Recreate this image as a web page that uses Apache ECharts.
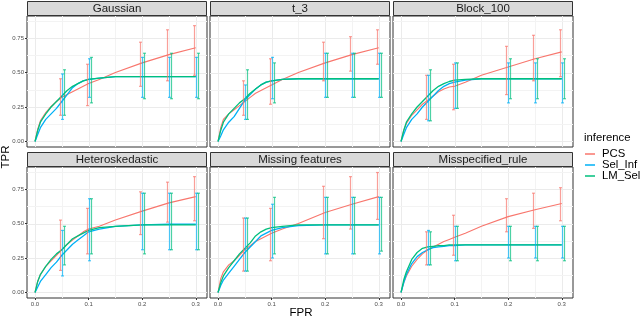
<!DOCTYPE html>
<html><head><meta charset="utf-8">
<script src="https://cdn.jsdelivr.net/npm/echarts@6/dist/echarts.min.js"></script>
<style>html,body{margin:0;padding:0;background:#fff}#c{width:640px;height:318px}</style>
</head><body><div id="c"></div>
<script>
// ---------------- data ----------------
const panels = ['Gaussian', 't_3', 'Block_100', 'Heteroskedastic', 'Missing features', 'Misspecified_rule'];
const methods = ['PCS', 'Sel_Inf', 'LM_Sel'];
const methodColors = ['#F8766D', '#00B0F6', '#00BF7D'];

const xTicks = [0, 0.1, 0.2, 0.3];
const xTickLabels = ['0.0', '0.1', '0.2', '0.3'];
const xMinor = [0.05, 0.15, 0.25];
const yTicks = [0, 0.25, 0.5, 0.75];
const yTickLabels = ['0.00', '0.25', '0.50', '0.75'];
const yMinor = [0.125, 0.375, 0.625, 0.875];

const curveX = [0, 0.005, 0.01, 0.02, 0.03, 0.04, 0.05, 0.06, 0.07, 0.08, 0.09, 0.1, 0.12, 0.15, 0.2, 0.25, 0.3];

const pcsCurves = [
  [0, 0.09, 0.15, 0.21, 0.255, 0.29, 0.32, 0.34, 0.36, 0.38, 0.40, 0.42, 0.45, 0.50, 0.57, 0.63, 0.68],
  [0, 0.10, 0.16, 0.20, 0.23, 0.26, 0.29, 0.32, 0.35, 0.37, 0.39, 0.41, 0.45, 0.50, 0.57, 0.63, 0.68],
  [0, 0.08, 0.13, 0.19, 0.23, 0.27, 0.30, 0.33, 0.36, 0.38, 0.395, 0.40, 0.43, 0.48, 0.54, 0.60, 0.65],
  [0, 0.08, 0.13, 0.19, 0.23, 0.27, 0.31, 0.35, 0.38, 0.41, 0.44, 0.46, 0.48, 0.525, 0.59, 0.65, 0.695],
  [0, 0.10, 0.15, 0.20, 0.23, 0.27, 0.31, 0.34, 0.37, 0.39, 0.41, 0.43, 0.46, 0.50, 0.58, 0.64, 0.695],
  [0, 0.07, 0.12, 0.19, 0.24, 0.28, 0.31, 0.33, 0.35, 0.37, 0.385, 0.40, 0.43, 0.48, 0.55, 0.60, 0.645]
];
const selCurves = [
  [0, 0.05, 0.10, 0.16, 0.20, 0.24, 0.29, 0.34, 0.39, 0.42, 0.44, 0.45, 0.46, 0.47, 0.47, 0.47, 0.47],
  [0, 0.04, 0.085, 0.14, 0.18, 0.24, 0.30, 0.34, 0.38, 0.41, 0.43, 0.44, 0.45, 0.455, 0.455, 0.455, 0.455],
  [0, 0.05, 0.10, 0.16, 0.20, 0.25, 0.29, 0.33, 0.37, 0.40, 0.42, 0.43, 0.445, 0.455, 0.455, 0.455, 0.455],
  [0, 0.04, 0.08, 0.13, 0.18, 0.22, 0.27, 0.31, 0.35, 0.38, 0.41, 0.44, 0.46, 0.48, 0.49, 0.495, 0.495],
  [0, 0.05, 0.09, 0.14, 0.19, 0.24, 0.29, 0.33, 0.37, 0.41, 0.43, 0.45, 0.47, 0.485, 0.49, 0.49, 0.49],
  [0, 0.07, 0.13, 0.21, 0.26, 0.29, 0.31, 0.325, 0.33, 0.335, 0.34, 0.34, 0.345, 0.345, 0.345, 0.345, 0.345]
];
const lmCurves = [
  [0, 0.08, 0.14, 0.20, 0.25, 0.29, 0.33, 0.37, 0.40, 0.42, 0.44, 0.45, 0.46, 0.47, 0.47, 0.47, 0.47],
  [0, 0.08, 0.14, 0.20, 0.24, 0.28, 0.31, 0.35, 0.38, 0.41, 0.43, 0.44, 0.45, 0.455, 0.455, 0.455, 0.455],
  [0, 0.08, 0.14, 0.20, 0.25, 0.29, 0.33, 0.37, 0.40, 0.42, 0.435, 0.445, 0.45, 0.455, 0.455, 0.455, 0.455],
  [0, 0.08, 0.13, 0.19, 0.24, 0.28, 0.31, 0.35, 0.39, 0.41, 0.43, 0.45, 0.47, 0.48, 0.49, 0.49, 0.49],
  [0, 0.07, 0.12, 0.18, 0.23, 0.28, 0.32, 0.36, 0.41, 0.44, 0.46, 0.47, 0.48, 0.49, 0.49, 0.49, 0.49],
  [0, 0.09, 0.15, 0.24, 0.29, 0.32, 0.33, 0.335, 0.34, 0.34, 0.345, 0.345, 0.345, 0.345, 0.345, 0.345, 0.345]
];

const errX = [0.05, 0.1, 0.2, 0.25, 0.3];
const pcsLo = [
  [0.19, 0.26, 0.40, 0.44, 0.48], [0.19, 0.27, 0.44, 0.51, 0.56], [0.16, 0.23, 0.34, 0.44, 0.47],
  [0.16, 0.28, 0.42, 0.51, 0.52], [0.155, 0.23, 0.39, 0.46, 0.53], [0.20, 0.27, 0.44, 0.465, 0.52]
];
const pcsHi = [
  [0.455, 0.56, 0.72, 0.81, 0.84], [0.44, 0.60, 0.72, 0.76, 0.81], [0.48, 0.56, 0.69, 0.77, 0.81],
  [0.525, 0.61, 0.73, 0.80, 0.84], [0.54, 0.61, 0.77, 0.84, 0.87], [0.44, 0.56, 0.68, 0.72, 0.76]
];
const selLo = [
  [0.16, 0.32, 0.32, 0.32, 0.32], [0.16, 0.31, 0.32, 0.32, 0.32], [0.15, 0.24, 0.28, 0.28, 0.28],
  [0.12, 0.23, 0.31, 0.31, 0.31], [0.155, 0.25, 0.28, 0.28, 0.28], [0.20, 0.23, 0.25, 0.25, 0.25]
];
const selHi = [
  [0.49, 0.60, 0.61, 0.61, 0.61], [0.41, 0.61, 0.64, 0.64, 0.64], [0.48, 0.57, 0.57, 0.57, 0.57],
  [0.45, 0.68, 0.72, 0.72, 0.72], [0.54, 0.64, 0.69, 0.69, 0.69], [0.45, 0.48, 0.48, 0.48, 0.48]
];
const lmLo = [
  [0.19, 0.28, 0.31, 0.31, 0.31], [0.16, 0.28, 0.32, 0.32, 0.32], [0.15, 0.24, 0.31, 0.31, 0.31],
  [0.20, 0.28, 0.28, 0.31, 0.31], [0.155, 0.28, 0.28, 0.28, 0.30], [0.20, 0.23, 0.23, 0.23, 0.23]
];
const lmHi = [
  [0.52, 0.61, 0.64, 0.64, 0.64], [0.52, 0.57, 0.64, 0.64, 0.64], [0.52, 0.57, 0.60, 0.60, 0.60],
  [0.48, 0.68, 0.72, 0.72, 0.72], [0.54, 0.69, 0.69, 0.69, 0.69], [0.44, 0.48, 0.48, 0.48, 0.48]
];

// ---------------- layout / style ----------------
const FONT = "'Liberation Sans', Arial, Helvetica, sans-serif";
const colLeft = [27, 210, 393];
const rowTop = [16, 167];
const PW = 180, PH = 131, STRIP = 15;
const X_MIN = -0.015, X_MAX = 0.321, Y_MIN = -0.04, Y_MAX = 0.91;
const dodgePx = [-2, 0, 2];

const curves = [pcsCurves, selCurves, lmCurves];
const los = [pcsLo, selLo, lmLo];
const his = [pcsHi, selHi, lmHi];

const grids = [], xAxes = [], yAxes = [], series = [], graphics = [];

panels.forEach((name, i) => {
  const col = i % 3, row = Math.floor(i / 3);
  const left = colLeft[col], top = rowTop[row];
  grids.push({ left, top, width: PW, height: PH, show: true, backgroundColor: '#ffffff',
    borderColor: '#333333', borderWidth: 1, containLabel: false });
  const bottomRow = row === 1, leftCol = col === 0;
  xAxes.push({
    type: 'value', gridIndex: i, min: X_MIN, max: X_MAX, position: 'bottom',
    axisLine: { show: false, onZero: false }, splitLine: { show: false },
    axisTick: { show: bottomRow, customValues: xTicks, length: 2, lineStyle: { color: '#333333', width: 1 } },
    axisLabel: { show: bottomRow, customValues: xTicks, margin: 3, fontSize: 6, color: '#4D4D4D', fontFamily: FONT,
      formatter: v => xTickLabels[xTicks.findIndex(t => Math.abs(t - v) < 1e-9)] }
  });
  yAxes.push({
    type: 'value', gridIndex: i, min: Y_MIN, max: Y_MAX, position: 'left',
    axisLine: { show: false, onZero: false }, splitLine: { show: false },
    axisTick: { show: leftCol, customValues: yTicks, length: 2, lineStyle: { color: '#333333', width: 1 } },
    axisLabel: { show: leftCol, customValues: yTicks, margin: 3, fontSize: 6, color: '#4D4D4D', fontFamily: FONT,
      formatter: v => yTickLabels[yTicks.findIndex(t => Math.abs(t - v) < 1e-9)] }
  });

  // grid lines (major + minor) drawn from tick arrays
  const gl = [];
  xTicks.forEach(v => gl.push([v, 0]));
  xMinor.forEach(v => gl.push([v, 1]));
  yTicks.forEach(v => gl.push([v, 2]));
  yMinor.forEach(v => gl.push([v, 3]));
  series.push({
    type: 'custom', name: 'grid' + i, xAxisIndex: i, yAxisIndex: i, silent: true, z: 1,
    data: gl,
    renderItem: (params, api) => {
      const cs = params.coordSys;
      const v = api.value(0), k = api.value(1);
      let shape;
      if (k < 2) {
        const x = Math.round(api.coord([v, 0])[0]) + 0.5;
        shape = { x1: x, y1: cs.y, x2: x, y2: cs.y + cs.height };
      } else {
        const y = Math.round(api.coord([0, v])[1]) + 0.5;
        shape = { x1: cs.x, y1: y, x2: cs.x + cs.width, y2: y };
      }
      return { type: 'line', shape, style: { stroke: k % 2 ? '#F3F3F3' : '#EBEBEB', lineWidth: 1 } };
    }
  });

  // curves
  methods.forEach((m, j) => {
    series.push({
      type: 'line', name: m, xAxisIndex: i, yAxisIndex: i, z: 3 + j,
      data: curveX.map((x, k) => [x, curves[j][i][k]]),
      showSymbol: false, symbol: 'none', color: methodColors[j],
      lineStyle: { width: j === 0 ? 1.1 : 1.3, color: methodColors[j] }
    });
  });
  // error bars
  methods.forEach((m, j) => {
    const dx = dodgePx[j], color = methodColors[j];
    series.push({
      type: 'custom', name: m + ' interval', xAxisIndex: i, yAxisIndex: i, z: 6 + j,
      encode: { x: 0, y: [1, 2] },
      data: errX.map((x, k) => [x, los[j][i][k], his[j][i][k]]),
      renderItem: (params, api) => {
        const x = api.value(0), lo = api.value(1), hi = api.value(2);
        const p1 = api.coord([x, lo]), p2 = api.coord([x, hi]);
        const px = Math.round(p1[0] + dx) + 0.5;
        const st = { stroke: color, lineWidth: 1.2, opacity: 0.7 };
        return { type: 'group', children: [
          { type: 'line', shape: { x1: px, y1: p1[1], x2: px, y2: p2[1] }, style: st },
          { type: 'line', shape: { x1: px - 1.5, y1: p1[1], x2: px + 1.5, y2: p1[1] }, style: st },
          { type: 'line', shape: { x1: px - 1.5, y1: p2[1], x2: px + 1.5, y2: p2[1] }, style: st }
        ] };
      }
    });
  });

  // strip
  graphics.push({ type: 'rect', shape: { x: left + 0.5, y: top - STRIP + 0.5, width: PW - 1, height: STRIP - 1 },
    style: { fill: '#D9D9D9', stroke: '#333333', lineWidth: 1 }, z: 10 });
  graphics.push({ type: 'text', x: left + PW / 2, y: top - STRIP / 2,
    style: { text: name, fill: '#1A1A1A', font: '11.5px ' + FONT, align: 'center', verticalAlign: 'middle' }, z: 11 });
});

graphics.push({ type: 'text', x: 301, y: 313,
  style: { text: 'FPR', fill: '#000', font: '11.5px ' + FONT, align: 'center', verticalAlign: 'middle' } });
graphics.push({ type: 'text', x: 6, y: 157, rotation: Math.PI / 2,
  style: { text: 'TPR', fill: '#000', font: '11.5px ' + FONT, align: 'center', verticalAlign: 'middle' } });
graphics.push({ type: 'text', x: 584, y: 138,
  style: { text: 'inference', fill: '#000', font: '11.3px ' + FONT, align: 'left', verticalAlign: 'middle' } });

const chart = echarts.init(document.getElementById('c'), null, { renderer: 'canvas' });
chart.setOption({
  animation: false,
  backgroundColor: '#ffffff',
  grid: grids, xAxis: xAxes, yAxis: yAxes, series,
  legend: {
    data: methods, orient: 'vertical', left: 585, top: 148.5, icon: 'rect',
    itemWidth: 10, itemHeight: 1.5, itemGap: 0, padding: 0,
    textStyle: { fontSize: 11.3, fontFamily: FONT, color: '#000', lineHeight: 11, padding: [0, 0, 0, 2] },
    selectedMode: false
  },
  graphic: graphics
});
</script>
</body></html>
